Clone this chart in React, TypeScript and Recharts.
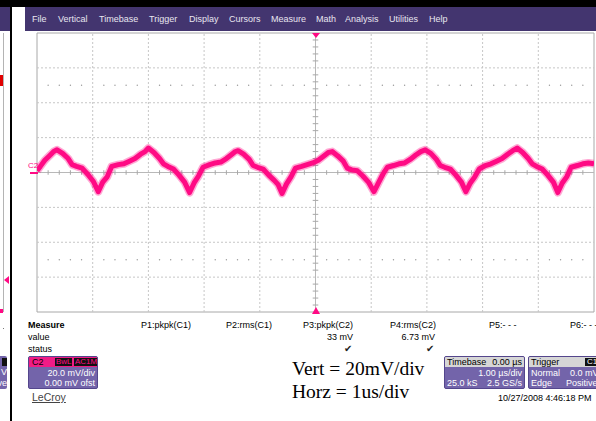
import { LineChart, Line, XAxis, YAxis, ReferenceLine, ReferenceArea, ReferenceDot } from 'recharts'

// time axis in microseconds (1 us/div), C2 in millivolts (20 mV/div)
const TIME_US = [
  -5.0, -4.94, -4.86, -4.78, -4.7,
  -4.64, -4.54, -4.44, -4.37, -4.29, -4.19, -4.09, -3.99, -3.9, -3.82, -3.74, -3.66, -3.54, -3.44, -3.34, -3.24, -3.14, -3.06,
  -3.0, -2.9, -2.8, -2.73, -2.65, -2.55, -2.45, -2.35, -2.26, -2.18, -2.1, -2.02, -1.9, -1.8, -1.7, -1.6, -1.5, -1.44,
  -1.39, -1.29, -1.19, -1.12, -1.04, -0.94, -0.84, -0.74, -0.67, -0.6, -0.52, -0.44, -0.36, -0.25, -0.15, -0.05, 0.05, 0.15, 0.23,
  0.3, 0.4, 0.5, 0.57, 0.65, 0.75, 0.85, 0.95, 1.05, 1.13, 1.21, 1.29, 1.4, 1.5, 1.6, 1.7, 1.8, 1.89,
  1.97, 2.07, 2.17, 2.24, 2.32, 2.42, 2.52, 2.62, 2.7, 2.78, 2.86, 2.94, 3.05, 3.15, 3.25, 3.35, 3.45, 3.54,
  3.62, 3.72, 3.82, 3.89, 3.97, 4.07, 4.17, 4.27, 4.35, 4.43, 4.51, 4.59, 4.7, 4.8, 4.9, 5.0,
]

const C2_MV = [
  1, 3.5, 7, 9.5, 12,
  13, 11, 8, 4.5, 3.5, 2.5, -1, -5, -11, -5.5, -2.5, 3.5, 4.5, 5, 6.5, 8, 10.5, 12,
  14, 11.5, 8, 5, 3.5, 2, -1.5, -5.5, -11.5, -6, -2, 3, 4.5, 5.5, 6, 8, 10.5, 12,
  12.5, 10.5, 7.5, 4, 3, 2, -1.5, -4.5, -7, -12, -6.5, -2.5, 2.5, 3.5, 4.5, 5.5, 7, 9.5, 11.5,
  12, 9.5, 6.5, 2.5, 1.5, 1, -2, -5.5, -11, -6, -1, 3, 4, 5, 5.5, 7.5, 10, 12,
  13, 11, 7.5, 4, 3, 2, -1.5, -5.5, -11, -6, -2.5, 2, 4, 5, 6.5, 8, 10.5, 12.5,
  14, 11.5, 8, 5, 3.5, 2, -1.5, -5.5, -11.5, -6, -2.5, 3, 4, 5, 5.5, 5,
]

const MAJOR_T = [-4, -3, -2, -1, 1, 2, 3, 4]
const MAJOR_MV = [-60, -40, -20, 20, 40, 60]
const MINOR_T = [
  -4.8, -4.6, -4.4, -4.2, -3.8, -3.6, -3.4, -3.2, -2.8, -2.6, -2.4, -2.2, -1.8, -1.6, -1.4, -1.2, -0.8, -0.6, -0.4, -0.2,
  0.2, 0.4, 0.6, 0.8, 1.2, 1.4, 1.6, 1.8, 2.2, 2.4, 2.6, 2.8, 3.2, 3.4, 3.6, 3.8, 4.2, 4.4, 4.6, 4.8,
]
const MINOR_MV = [-76, -72, -68, -64, -56, -52, -48, -44, -36, -32, -28, -24, -16, -12, -8, -4, 4, 8, 12, 16, 24, 28, 32, 36, 44, 48, 52, 56, 64, 68, 72, 76]
const DOT_ROWS_MV = [50, -50]

const MENU = [
  { label: 'File', x: 32 },
  { label: 'Vertical', x: 58 },
  { label: 'Timebase', x: 99 },
  { label: 'Trigger', x: 149 },
  { label: 'Display', x: 189 },
  { label: 'Cursors', x: 229 },
  { label: 'Measure', x: 271 },
  { label: 'Math', x: 316 },
  { label: 'Analysis', x: 345 },
  { label: 'Utilities', x: 389 },
  { label: 'Help', x: 429 },
]

const PARAMS = [
  { label: 'P1:pkpk(C1)', x: 141, value: '', right: 0 },
  { label: 'P2:rms(C1)', x: 226, value: '', right: 0 },
  { label: 'P3:pkpk(C2)', x: 303, value: '33 mV', right: 353 },
  { label: 'P4:rms(C2)', x: 390, value: '6.73 mV', right: 435 },
  { label: 'P5:- - -', x: 489, value: '', right: 0 },
  { label: 'P6:- - -', x: 570, value: '', right: 0 },
]

const data = TIME_US.map((t, i) => ({ t, mv: C2_MV[i] }))

const PINK = '#ff0a84'
const MENU_PURPLE = '#43356f'
const BOX_PURPLE = '#7364aa'
const GRID = '#c6c6c6'
const FONT = 'Arial, "Liberation Sans", sans-serif'

function Txt({ x, y, children, size = 9, color = '#000', right, bold, style }: any) {
  const s: any = {
    position: 'absolute',
    top: y - size / 2 - 1,
    fontSize: size,
    lineHeight: `${size + 2}px`,
    color,
    whiteSpace: 'nowrap',
    fontWeight: bold ? 'bold' : 'normal',
    ...style,
  }
  if (right !== undefined) s.right = 596 - right
  else s.left = x
  return <div style={s}>{children}</div>
}

function InfoBox({ x, w, head, headBg, rows }: any) {
  return (
    <div
      style={{
        position: 'absolute',
        left: x,
        top: 356,
        width: w,
        height: 33,
        background: BOX_PURPLE,
        border: '1px solid #54468c',
        borderRadius: 2,
        boxSizing: 'border-box',
        overflow: 'hidden',
      }}
    >
      <div style={{ position: 'absolute', left: 0, right: 0, top: 0, height: 10, background: headBg }} />
      {head}
      {rows}
    </div>
  )
}

export default function App() {
  return (
    <div
      style={{
        position: 'absolute',
        left: 0,
        top: 0,
        width: 596,
        height: 421,
        overflow: 'hidden',
        background: '#fff',
        fontFamily: FONT,
      }}
    >
      {/* top black strip and menu bar */}
      <div style={{ position: 'absolute', left: 0, top: 0, width: 596, height: 7, background: '#000' }} />
      <div style={{ position: 'absolute', left: 25, top: 7, width: 571, height: 24, background: MENU_PURPLE }} />
      {MENU.map((m) => (
        <Txt key={m.label} x={m.x} y={19} color="#e8e6f0">
          {m.label}
        </Txt>
      ))}

      {/* neighbouring window strip on the left */}
      <div style={{ position: 'absolute', left: 0, top: 7, width: 10, height: 24, background: MENU_PURPLE }} />
      <div style={{ position: 'absolute', left: 3, top: 33, width: 1, height: 279, background: '#b4b4b4' }} />
      <div style={{ position: 'absolute', left: 0, top: 311, width: 4, height: 1, background: '#b4b4b4' }} />
      <div style={{ position: 'absolute', left: 0, top: 75, width: 3, height: 11, background: '#e00000' }} />
      <div style={{ position: 'absolute', left: 0, top: 309, width: 3, height: 4, background: PINK }} />
      <svg style={{ position: 'absolute', left: 0, top: 270 }} width={10} height={20}>
        <polygon points="4,10 9,6 9,14" fill={PINK} />
      </svg>
      <div style={{ position: 'absolute', left: 3, top: 328, width: 1, height: 1, background: '#777' }} />
      <div style={{ position: 'absolute', left: -4, top: 356, width: 11, height: 33, background: BOX_PURPLE, borderRadius: 2 }} />
      <div style={{ position: 'absolute', left: 2, top: 358, width: 5, height: 8, background: '#111' }} />
      <Txt right={7} y={372} color="#fff">V</Txt>
      <Txt right={7} y={383} color="#fff">ve</Txt>
      <div style={{ position: 'absolute', left: 10, top: 0, width: 2, height: 421, background: '#000' }} />

      {/* scope grid and trace */}
      <div style={{ position: 'absolute', left: 32, top: 28 }}>
        <LineChart width={567} height={289} data={data} margin={{ top: 5, right: 5, bottom: 5, left: 5 }}>
          <XAxis type="number" dataKey="t" domain={[-5, 5]} hide allowDataOverflow />
          <YAxis type="number" domain={[-80, 80]} hide allowDataOverflow />
          {MAJOR_T.map((t) => (
            <ReferenceLine key={`vx${t}`} x={t} stroke={GRID} strokeDasharray="2 2" />
          ))}
          {MAJOR_MV.map((v) => (
            <ReferenceLine key={`hy${v}`} y={v} stroke={GRID} strokeDasharray="2 2" />
          ))}
          <ReferenceLine x={0} stroke="#b8b8b8" />
          <ReferenceLine y={0} stroke="#b8b8b8" />
          {MINOR_T.map((t) => (
            <ReferenceLine key={`tx${t}`} segment={[{ x: t, y: -1.3 }, { x: t, y: 1.3 }]} stroke="#a8a8a8" />
          ))}
          {MINOR_MV.map((v) => (
            <ReferenceLine key={`ty${v}`} segment={[{ x: -0.05, y: v }, { x: 0.05, y: v }]} stroke="#a8a8a8" />
          ))}
          {DOT_ROWS_MV.map((row) =>
            MINOR_T.map((t) => (
              <ReferenceDot key={`d${row}${t}`} x={t} y={row} r={0.7} fill="#9a9a9a" stroke="none" />
            ))
          )}
          <ReferenceArea x1={-5} x2={5} y1={-80} y2={80} fill="none" stroke="#a8a8a8" strokeOpacity={1} />
          {/* noise halo, then the trace core */}
          <Line
            type="linear"
            dataKey="mv"
            stroke={PINK}
            strokeOpacity={0.35}
            strokeWidth={8}
            strokeLinejoin="round"
            dot={false}
            isAnimationActive={false}
          />
          <Line
            type="linear"
            dataKey="mv"
            stroke={PINK}
            strokeWidth={5}
            strokeLinejoin="round"
            dot={false}
            isAnimationActive={false}
          />
        </LineChart>
      </div>

      {/* C2 ground marker and trigger markers */}
      <Txt x={28} y={166} size={8} color={PINK}>C2</Txt>
      <div style={{ position: 'absolute', left: 30, top: 172, width: 8, height: 2, background: PINK }} />
      <svg style={{ position: 'absolute', left: 310, top: 32 }} width={12} height={8}>
        <polygon points="2,1 10,1 6,6" fill={PINK} />
      </svg>
      <svg style={{ position: 'absolute', left: 310, top: 305 }} width={12} height={10}>
        <polygon points="6,2 10,9 2,9" fill={PINK} />
      </svg>

      {/* measure panel */}
      <Txt x={28} y={325} bold>Measure</Txt>
      <Txt x={28} y={337}>value</Txt>
      <Txt x={28} y={349}>status</Txt>
      {PARAMS.map((p) => (
        <Txt key={p.label} x={p.x} y={325}>{p.label}</Txt>
      ))}
      {PARAMS.filter((p) => p.value).map((p) => (
        <Txt key={p.value} right={p.right} y={337}>{p.value}</Txt>
      ))}
      {PARAMS.filter((p) => p.value).map((p) => (
        <Txt key={`c${p.value}`} right={p.right - 1} y={349} size={10} color="#222">✔</Txt>
      ))}

      {/* C2 channel box */}
      <InfoBox
        x={28}
        w={70}
        headBg="#f01c86"
        head={
          <>
            <Txt x={3} y={5} color="#000">C2</Txt>
            <div style={{ position: 'absolute', left: 26, top: 1, width: 17, height: 8, background: '#111' }} />
            <div style={{ position: 'absolute', left: 45, top: 1, width: 23, height: 8, background: '#111' }} />
            <Txt x={27} y={5} size={8} color={PINK}>BwL</Txt>
            <Txt x={46} y={5} size={8} color={PINK}>AC1M</Txt>
          </>
        }
        rows={
          <>
            <div style={{ position: 'absolute', right: 2, top: 11, fontSize: 9, lineHeight: '11px', color: '#fff' }}>20.0 mV/div</div>
            <div style={{ position: 'absolute', right: 2, top: 21, fontSize: 9, lineHeight: '11px', color: '#fff' }}>0.00 mV ofst</div>
          </>
        }
      />
      <div
        style={{
          position: 'absolute',
          left: 32,
          top: 391,
          fontSize: 10.5,
          lineHeight: '12px',
          color: '#444',
          textDecoration: 'underline',
          fontFamily: FONT,
        }}
      >
        LeCroy
      </div>

      {/* annotation */}
      <div style={{ position: 'absolute', left: 292, top: 358, fontFamily: '"Liberation Serif", "Times New Roman", serif', fontSize: 19.5, lineHeight: '22px', color: '#000', whiteSpace: 'nowrap' }}>
        Vert = 20mV/div
      </div>
      <div style={{ position: 'absolute', left: 292, top: 381, fontFamily: '"Liberation Serif", "Times New Roman", serif', fontSize: 19.5, lineHeight: '22px', color: '#000', whiteSpace: 'nowrap' }}>
        Horz = 1us/div
      </div>

      {/* timebase box */}
      <InfoBox
        x={444}
        w={81}
        headBg="#d6d6d6"
        head={
          <>
            <div style={{ position: 'absolute', left: 2, top: 0, fontSize: 9, lineHeight: '11px' }}>Timebase</div>
            <div style={{ position: 'absolute', right: 2, top: 0, fontSize: 9, lineHeight: '11px' }}>0.00 µs</div>
          </>
        }
        rows={
          <>
            <div style={{ position: 'absolute', right: 2, top: 11, fontSize: 9, lineHeight: '11px', color: '#fff' }}>1.00 µs/div</div>
            <div style={{ position: 'absolute', left: 2, top: 21, fontSize: 9, lineHeight: '11px', color: '#fff' }}>25.0 kS</div>
            <div style={{ position: 'absolute', right: 2, top: 21, fontSize: 9, lineHeight: '11px', color: '#fff' }}>2.5 GS/s</div>
          </>
        }
      />

      {/* trigger box, clipped by the window edge */}
      <InfoBox
        x={528}
        w={74}
        headBg="#d6d6d6"
        head={
          <>
            <div style={{ position: 'absolute', left: 2, top: 0, fontSize: 9, lineHeight: '11px' }}>Trigger</div>
            <div style={{ position: 'absolute', left: 56, top: 1, width: 16, height: 8, background: '#111' }} />
            <div style={{ position: 'absolute', left: 58, top: 0, fontSize: 8, lineHeight: '10px', color: '#fff' }}>C1</div>
          </>
        }
        rows={
          <>
            <div style={{ position: 'absolute', left: 2, top: 11, fontSize: 9, lineHeight: '11px', color: '#fff' }}>Normal</div>
            <div style={{ position: 'absolute', left: 41, top: 11, fontSize: 9, lineHeight: '11px', color: '#fff', whiteSpace: 'nowrap' }}>0.0 mV</div>
            <div style={{ position: 'absolute', left: 2, top: 21, fontSize: 9, lineHeight: '11px', color: '#fff' }}>Edge</div>
            <div style={{ position: 'absolute', left: 37, top: 21, fontSize: 9, lineHeight: '11px', color: '#fff', whiteSpace: 'nowrap' }}>Positive</div>
          </>
        }
      />

      <Txt x={498} y={398} size={9}>10/27/2008 4:46:18 PM</Txt>
    </div>
  )
}
